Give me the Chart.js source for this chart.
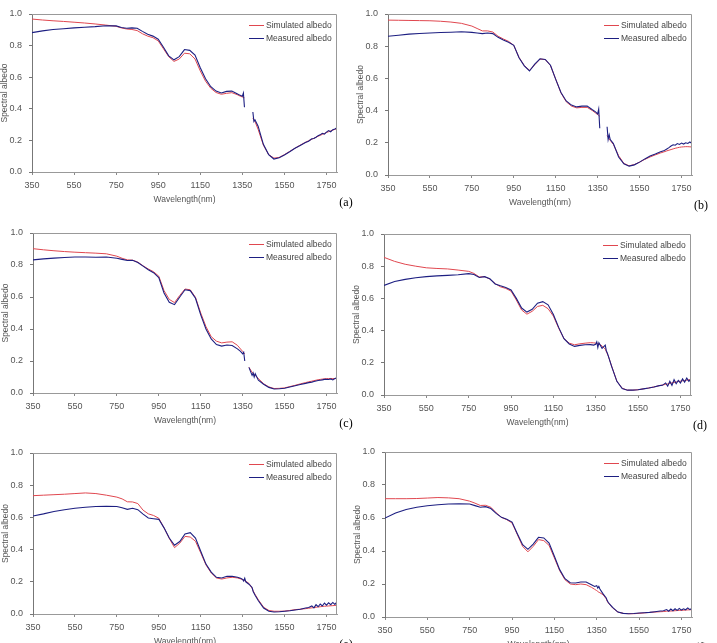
<!DOCTYPE html>
<html>
<head>
<meta charset="utf-8">
<script src="https://cdn.jsdelivr.net/npm/chart.js@4.4.1/dist/chart.umd.min.js"></script>
<style>
  body { margin: 0; background: #fff; }
  #wrap { position: relative; width: 717px; height: 643px; overflow: hidden; background: #fff; }
  #wrap canvas { position: absolute; }
</style>
</head>
<body>
<div id="wrap"></div>
<script>
// shared wavelength grid (nm)
const wavelength = [350, 400, 450, 500, 550, 600, 650, 700, 750, 775, 800, 825, 850, 875, 900, 925, 950, 975,
  1000, 1025, 1050, 1075, 1100, 1125, 1150, 1175, 1200, 1225, 1250, 1275, 1300, 1325, 1340, 1350, 1355, 1360,
  1365, 1380, 1395, 1400, 1405, 1410, 1425, 1450, 1475, 1500, 1525, 1550, 1575, 1600, 1625, 1650, 1665, 1680,
  1690, 1700, 1710, 1720, 1730, 1740, 1750, 1760, 1770, 1780, 1790, 1800];

const xTicks = [350, 550, 750, 950, 1150, 1350, 1550, 1750];
const yTicks = [0, 0.2, 0.4, 0.6, 0.8, 1.0];
const seriesNames = ['Simulated albedo', 'Measured albedo'];

const simA = [.968, .962, .957, .953, .948, .943, .937, .930, .922, .912, .905, .902, .895, .875, .86, .85, .83, .78,
  .73, .70, .715, .752, .748, .715, .64, .575, .53, .503, .492, .498, .502, .49, .48, .475, .472, .47,
  null, null, null, .34, .33, .32, .27, .17, .11, .088, .092, .11, .13, .15, .17, .188, .198, .207,
  .213, .22, .226, .232, .238, .244, .25, .255, .26, .265, .27, .275];
const measA = [.882, .893, .902, .907, .912, .916, .92, .926, .925, .915, .91, .912, .91, .89, .872, .86, .84, .79,
  .735, .71, .73, .775, .77, .74, .66, .59, .54, .512, .5, .51, .512, .495, .485, .48, .5, .41,
  null, null, null, .38, .32, .33, .29, .175, .11, .082, .09, .108, .128, .15, .168, .187, .195, .21,
  .212, .22, .23, .235, .245, .24, .252, .262, .255, .268, .272, .28];

const simB = [.962, .961, .96, .959, .958, .955, .95, .942, .925, .91, .895, .895, .888, .862, .845, .83, .805, .73,
  .68, .65, .685, .72, .717, .68, .595, .51, .455, .428, .417, .42, .42, .4, .385, .375, .37, .365,
  null, null, .245, .235, .225, .215, .19, .12, .072, .057, .065, .08, .097, .112, .125, .137, .143, .15,
  .154, .158, .162, .166, .169, .172, .174, .175, .176, .176, .175, .174];
const measB = [.862, .868, .875, .879, .882, .885, .887, .89, .886, .882, .878, .882, .878, .855, .838, .825, .805, .728,
  .678, .646, .688, .722, .718, .682, .594, .512, .46, .434, .423, .428, .428, .405, .392, .38, .41, .29,
  null, null, .3, .22, .25, .22, .195, .112, .07, .055, .063, .08, .1, .118, .13, .145, .15, .162,
  .17, .18, .188, .185, .195, .19, .198, .192, .2, .196, .205, .195];

const simC = [.902, .895, .889, .884, .88, .877, .874, .87, .855, .842, .832, .83, .818, .795, .775, .758, .73, .64,
  .585, .565, .61, .65, .645, .598, .5, .415, .352, .324, .313, .318, .32, .298, .275, .26, .252, .245,
  null, .16, .13, .125, .115, .11, .09, .058, .038, .028, .029, .032, .04, .048, .057, .065, .07, .074,
  .077, .08, .083, .085, .087, .089, .09, .09, .091, .09, .09, .09];
const measC = [.832, .838, .843, .847, .85, .85, .848, .85, .842, .835, .828, .83, .816, .793, .77, .752, .722, .625,
  .567, .552, .6, .645, .64, .592, .488, .4, .338, .303, .293, .3, .297, .276, .26, .245, .255, .2,
  null, .16, .11, .125, .1, .12, .08, .055, .035, .025, .027, .03, .038, .045, .053, .06, .065, .068,
  .072, .075, .078, .08, .082, .085, .086, .084, .088, .082, .09, .095];

const simD = [.855, .83, .812, .8, .79, .786, .783, .776, .768, .755, .733, .735, .72, .692, .672, .662, .645, .59,
  .528, .502, .52, .55, .557, .536, .49, .415, .35, .322, .312, .318, .322, .325, .324, .322, .32, .318,
  .316, .305, .285, .27, .255, .24, .18, .085, .042, .03, .03, .033, .038, .043, .05, .058, .062, .066,
  .069, .072, .075, .078, .081, .084, .086, .088, .09, .092, .094, .096];
const measD = [.681, .705, .718, .728, .735, .74, .743, .747, .754, .748, .73, .735, .722, .69, .678, .668, .652, .6,
  .54, .515, .532, .57, .58, .56, .5, .42, .35, .317, .302, .308, .312, .313, .31, .315, .33, .295,
  .325, .29, .31, .275, .26, .24, .178, .085, .04, .03, .03, .033, .038, .043, .05, .058, .06, .075,
  .055, .085, .06, .095, .07, .09, .075, .1, .08, .105, .085, .1];

const simE = [.735, .738, .741, .744, .748, .752, .748, .738, .726, .715, .697, .696, .686, .645, .622, .612, .595, .535,
  .47, .412, .44, .482, .478, .452, .38, .305, .255, .224, .217, .224, .228, .224, .218, .213, .21, .207,
  .204, .19, .16, .145, .132, .12, .088, .042, .022, .017, .017, .018, .022, .027, .03, .033, .036, .038,
  .04, .042, .044, .045, .047, .048, .049, .05, .051, .052, .053, .054];
const measE = [.609, .622, .637, .648, .657, .663, .668, .669, .668, .66, .65, .657, .648, .62, .596, .592, .588, .535,
  .472, .427, .45, .497, .505, .472, .39, .31, .26, .228, .224, .234, .234, .228, .222, .215, .205, .222,
  .2, .185, .165, .14, .128, .115, .082, .037, .017, .012, .014, .017, .02, .025, .03, .037, .04, .05,
  .038, .058, .045, .062, .05, .068, .055, .07, .058, .072, .06, .075];

const simF = [.717, .717, .717, .718, .721, .724, .722, .717, .702, .69, .676, .677, .665, .632, .604, .59, .57, .5,
  .428, .395, .428, .469, .463, .434, .358, .281, .226, .2, .196, .2, .196, .18, .168, .16, .155, .15,
  .147, .135, .11, .095, .085, .078, .055, .03, .022, .02, .02, .022, .025, .028, .03, .032, .033, .035,
  .036, .036, .037, .038, .039, .04, .04, .041, .042, .043, .044, .044];
const measF = [.6, .63, .652, .665, .674, .68, .685, .686, .685, .675, .665, .669, .657, .628, .604, .593, .575, .505,
  .438, .41, .442, .483, .479, .448, .368, .287, .232, .208, .206, .212, .212, .196, .185, .19, .175, .185,
  .17, .14, .115, .098, .088, .08, .058, .03, .022, .02, .021, .024, .026, .028, .032, .036, .038, .045,
  .035, .048, .038, .05, .04, .052, .042, .05, .044, .055, .045, .052];

// plot-area boxes [left, top, right, bottom] on the page
const panels = [
  { tag: '(a)', sim: simA, meas: measA, box: [32, 14, 337, 172] },
  { tag: '(b)', sim: simB, meas: measB, box: [388, 14, 692, 175] },
  { tag: '(c)', sim: simC, meas: measC, box: [33, 233, 337, 393] },
  { tag: '(d)', sim: simD, meas: measD, box: [384, 234, 691, 395] },
  { tag: '(e)', sim: simE, meas: measE, box: [33, 453, 337, 614] },
  { tag: '(f)', sim: simF, meas: measF, box: [385, 452, 692, 617] }
];

const RED = '#e0474f';
const BLUE = '#1d1f82';
const SANS = '"Liberation Sans", Arial, sans-serif';
// top padding must exceed half a tick label + tick padding, or Chart.js grows it
const AXW = 32, PADT = 14, PADR = 24, AXH = 42;

const decor = {
  id: 'decor',
  afterDraw(chart) {
    const { ctx, chartArea: a } = chart;
    const tag = chart.options.plugins.decor.tag;
    ctx.save();
    // top and right frame
    ctx.strokeStyle = '#999';
    ctx.lineWidth = 1;
    ctx.beginPath();
    ctx.moveTo(a.left, a.top + 0.5);
    ctx.lineTo(a.right - 0.5, a.top + 0.5);
    ctx.lineTo(a.right - 0.5, a.bottom);
    ctx.stroke();

    // legend
    ctx.font = '8.5px ' + SANS;
    ctx.textBaseline = 'middle';
    ctx.textAlign = 'left';
    [RED, BLUE].forEach((c, i) => {
      const y = Math.round(a.top + 11 + i * 13) + 0.5;
      ctx.strokeStyle = c;
      ctx.beginPath();
      ctx.moveTo(a.right - 88, y);
      ctx.lineTo(a.right - 73, y);
      ctx.stroke();
      ctx.fillStyle = '#444';
      ctx.fillText(seriesNames[i], a.right - 71, y);
    });

    // axis titles
    ctx.fillStyle = '#555';
    ctx.textAlign = 'center';
    ctx.fillText('Wavelength(nm)', (a.left + a.right) / 2, a.bottom + 28);
    ctx.save();
    ctx.translate(a.left - 27, (a.top + a.bottom) / 2);
    ctx.rotate(-Math.PI / 2);
    ctx.fillText('Spectral albedo', 0, 0);
    ctx.restore();

    // panel tag
    ctx.fillStyle = '#000';
    ctx.font = '12px "Liberation Serif", "Times New Roman", serif';
    ctx.fillText(tag, a.right + 9, a.bottom + 31);
    ctx.restore();
  }
};

const wrap = document.getElementById('wrap');

panels.forEach(p => {
  const [L, T, R, B] = p.box;
  const cv = document.createElement('canvas');
  const w = (R - L) + AXW + PADR;
  const h = (B - T) + PADT + AXH;
  cv.width = w; cv.height = h;
  cv.style.left = (L - AXW) + 'px';
  cv.style.top = (T - PADT) + 'px';
  cv.style.width = w + 'px';
  cv.style.height = h + 'px';
  wrap.appendChild(cv);

  new Chart(cv, {
    type: 'line',
    data: {
      datasets: [
        {
          label: seriesNames[0],
          data: wavelength.map((x, i) => ({ x: x, y: p.sim[i] })),
          borderColor: RED, borderWidth: 1, pointRadius: 0, tension: 0, spanGaps: false, order: 2
        },
        {
          label: seriesNames[1],
          data: wavelength.map((x, i) => ({ x: x, y: p.meas[i] })),
          borderColor: BLUE, borderWidth: 1.1, pointRadius: 0, tension: 0, spanGaps: false, order: 1
        }
      ]
    },
    options: {
      responsive: false,
      animation: false,
      devicePixelRatio: 1,
      layout: { padding: { left: 0, top: PADT, right: PADR, bottom: 0 } },
      plugins: { legend: { display: false }, tooltip: { enabled: false }, decor: { tag: p.tag } },
      scales: {
        x: {
          type: 'linear', min: 350, max: 1800,
          afterBuildTicks: s => { s.ticks = xTicks.map(v => ({ value: v })); },
          afterFit: s => { s.height = AXH; },
          grid: { display: true, drawOnChartArea: false, drawTicks: true, tickLength: 3, color: '#888' },
          border: { display: true, color: '#999' },
          ticks: { color: '#555', font: { family: SANS, size: 9 }, maxRotation: 0, padding: 5, autoSkip: false,
            callback: v => String(v) }
        },
        y: {
          min: 0, max: 1,
          afterBuildTicks: s => { s.ticks = yTicks.map(v => ({ value: v })); },
          afterFit: s => { s.width = AXW; },
          grid: { display: true, drawOnChartArea: false, drawTicks: true, tickLength: 3, color: '#777' },
          border: { display: true, color: '#777' },
          ticks: { color: '#555', font: { family: SANS, size: 9 }, padding: 7, callback: v => v.toFixed(1) }
        }
      }
    },
    plugins: [decor]
  });
});
</script>
</body>
</html>
